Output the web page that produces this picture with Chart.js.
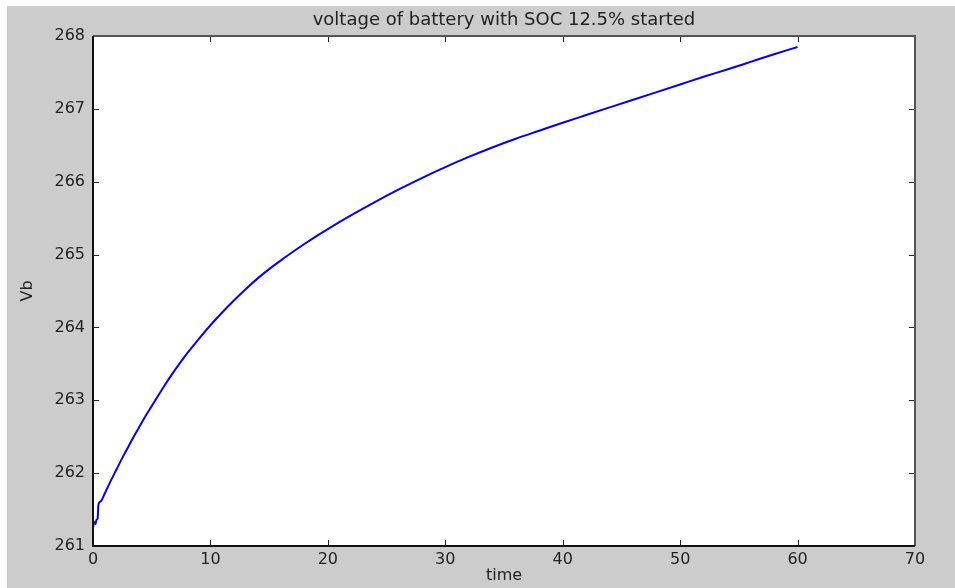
<!DOCTYPE html>
<html>
<head>
<meta charset="utf-8">
<script src="https://cdn.jsdelivr.net/npm/chart.js@4.4.1/dist/chart.umd.min.js"></script>
<style>
    html, body { margin: 0; padding: 0; background: #ffffff; }
    #frame {
        position: absolute;
        left: 7px;
        top: 6px;
        width: 948px;
        height: 582px;
        background: #cccccc;
    }
</style>
</head>
<body>
<div id="frame">
    <canvas id="batteryChart" width="948" height="582"></canvas>
</div>
<script>
// time (x) and battery voltage Vb (y)
const timeValues = [
    0, 0.1, 0.2, 0.3, 0.4, 0.45, 0.55, 0.7, 1, 1.5, 2, 2.5, 3, 3.5, 4, 4.5,
    5, 6, 7, 8, 9, 10, 11, 12, 13, 14, 15, 16, 17, 18, 19, 20,
    22, 24, 26, 28, 30, 32, 34, 36, 38, 40, 42, 44, 46, 48, 50, 52, 54, 56, 58, 60
];
const voltageValues = [
    261.25, 261.33, 261.30, 261.36, 261.38, 261.55, 261.60, 261.62, 261.72, 261.89,
    262.05, 262.21, 262.36, 262.51, 262.65, 262.79, 262.92, 263.18, 263.42, 263.64,
    263.84, 264.03, 264.205, 264.37, 264.525, 264.67, 264.80, 264.92, 265.035, 265.145,
    265.25, 265.35, 265.54, 265.72, 265.89, 266.05, 266.20, 266.34, 266.47, 266.59,
    266.70, 266.81, 266.915, 267.02, 267.125, 267.23, 267.335, 267.44, 267.54, 267.645,
    267.75, 267.85
];
const xTicks = [0, 10, 20, 30, 40, 50, 60, 70];
const yTicks = [261, 262, 263, 264, 265, 266, 267, 268];

const chartTitle = 'voltage of battery with SOC 12.5% started';
const xLabel = 'time';
const yLabel = 'Vb';

const points = timeValues.map((t, i) => ({ x: t, y: voltageValues[i] }));
const fontFamily = '"DejaVu Sans", Verdana, sans-serif';

// white plot box with a dark frame and inward tick marks (matlab style)
const plotBox = {
    id: 'plotBox',
    beforeDraw(chart) {
        const { ctx, chartArea: a } = chart;
        ctx.save();
        ctx.fillStyle = '#ffffff';
        ctx.fillRect(a.left, a.top, a.right - a.left, a.bottom - a.top);
        ctx.restore();
    },
    afterDraw(chart) {
        const { ctx, chartArea: a, scales } = chart;
        const len = 6;
        ctx.save();
        ctx.strokeStyle = '#222222';
        ctx.lineWidth = 1;
        ctx.beginPath();
        xTicks.forEach(v => {
            const px = Math.round(scales.x.getPixelForValue(v)) + 0.5;
            ctx.moveTo(px, a.bottom); ctx.lineTo(px, a.bottom - len);
            ctx.moveTo(px, a.top); ctx.lineTo(px, a.top + len);
        });
        yTicks.forEach(v => {
            const py = Math.round(scales.y.getPixelForValue(v)) + 0.5;
            ctx.moveTo(a.left, py); ctx.lineTo(a.left + len, py);
            ctx.moveTo(a.right, py); ctx.lineTo(a.right - len, py);
        });
        ctx.stroke();

        ctx.lineWidth = 2;
        ctx.strokeStyle = '#555555';
        ctx.beginPath();
        ctx.moveTo(a.left, a.top); ctx.lineTo(a.right, a.top);
        ctx.lineTo(a.right, a.bottom);
        ctx.stroke();
        ctx.strokeStyle = '#111111';
        ctx.beginPath();
        ctx.moveTo(a.left, a.top); ctx.lineTo(a.left, a.bottom);
        ctx.lineTo(a.right, a.bottom);
        ctx.stroke();
        ctx.restore();
    }
};

new Chart(document.getElementById('batteryChart'), {
    type: 'line',
    data: {
        datasets: [{
            data: points,
            borderColor: '#0000ff',
            borderWidth: 2,
            pointRadius: 0,
            cubicInterpolationMode: 'monotone',
            fill: false
        }]
    },
    options: {
        responsive: false,
        animation: false,
        layout: { padding: { left: 0, right: 40, top: 0, bottom: 0 } },
        scales: {
            x: {
                type: 'linear',
                min: 0,
                max: 70,
                afterFit: scale => { scale.height = 42; },
                afterBuildTicks: scale => { scale.ticks = xTicks.map(v => ({ value: v })); },
                grid: { display: false, drawTicks: false },
                border: { display: false },
                ticks: {
                    padding: 4,
                    color: '#222222',
                    font: { family: fontFamily, size: 16 }
                },
                title: {
                    display: true,
                    text: xLabel,
                    color: '#222222',
                    padding: 3,
                    font: { family: fontFamily, size: 16 }
                }
            },
            y: {
                type: 'linear',
                min: 261,
                max: 268,
                afterFit: scale => { scale.width = 86; },
                afterBuildTicks: scale => { scale.ticks = yTicks.map(v => ({ value: v })); },
                grid: { display: false, drawTicks: false },
                border: { display: false },
                ticks: {
                    padding: 8,
                    color: '#222222',
                    font: { family: fontFamily, size: 16 }
                },
                title: {
                    display: true,
                    text: yLabel,
                    color: '#222222',
                    padding: 11,
                    font: { family: fontFamily, size: 16 }
                }
            }
        },
        plugins: {
            legend: { display: false },
            tooltip: { enabled: false },
            title: {
                display: true,
                fullSize: false,
                text: chartTitle,
                color: '#222222',
                padding: { top: 4, bottom: 4.4 },
                font: { family: fontFamily, size: 18, weight: 'normal' }
            }
        }
    },
    plugins: [plotBox]
});
</script>
</body>
</html>
